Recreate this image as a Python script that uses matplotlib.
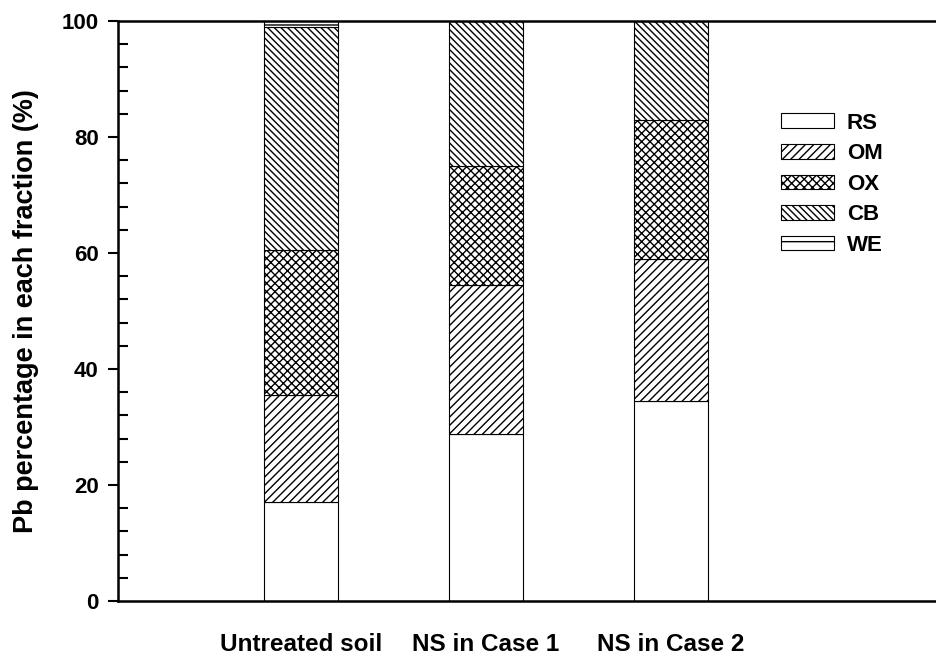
import matplotlib
matplotlib.use("Agg")
import matplotlib.pyplot as plt
from matplotlib.ticker import MultipleLocator
import numpy as np

plt.rcParams['font.family'] = ['Liberation Sans', 'DejaVu Sans']
plt.rcParams['hatch.linewidth'] = 1.0

categories = ["Untreated soil", "NS in Case 1", "NS in Case 2"]
fractions = ["RS", "OM", "OX", "CB", "WE"]
RS = [17.0, 28.8, 34.5]
OM = [18.5, 25.7, 24.5]
OX = [25.0, 20.5, 24.0]
CB = [38.5, 25.0, 17.0]
WE = [1.0, 0.0, 0.0]
hatches = ["", "////", "xxxx", "\\\\\\\\\\", "-"]

fig = plt.figure(figsize=(9.37, 6.65), dpi=100)
ax = fig.add_axes([0.126, 0.0962, 0.874, 0.8722])

x = np.arange(1, len(categories) + 1)
bottom = np.zeros(len(categories))
for name, vals, h in zip(fractions, [RS, OM, OX, CB, WE], hatches):
    ax.bar(x, vals, width=0.405, bottom=bottom, color="white",
           edgecolor="black", linewidth=0.8, hatch=h, label=name)
    bottom += np.array(vals)

ax.set_xlim(0.011, 4.438)
ax.set_ylim(0, 100)
ax.set_xticks(x)
ax.set_xticklabels(categories, fontsize=17.5, fontweight="bold")
ax.tick_params(axis="x", length=0, pad=23)

ax.yaxis.set_major_locator(MultipleLocator(20))
ax.yaxis.set_minor_locator(MultipleLocator(4))
ax.tick_params(axis="y", which="major", direction="out", length=7, width=1.5,
               labelsize=16, pad=7)
ax.tick_params(axis="y", which="minor", direction="in", length=7, width=1.5)
for lab in ax.get_yticklabels():
    lab.set_fontweight("bold")

for s in ["left", "bottom", "top"]:
    ax.spines[s].set_linewidth(1.8)
ax.spines["right"].set_visible(False)

ax.set_ylabel("Pb percentage in each fraction (%)", fontsize=19.5,
              fontweight="bold", labelpad=16)

leg = ax.legend(loc="upper left", bbox_to_anchor=(0.81, 0.842), frameon=False,
                prop={"weight": "bold", "size": 16}, handlelength=2.35,
                handleheight=0.65, labelspacing=0.43, handletextpad=0.6,
                borderpad=0, borderaxespad=0)

fig.savefig("out.png", dpi=100)
